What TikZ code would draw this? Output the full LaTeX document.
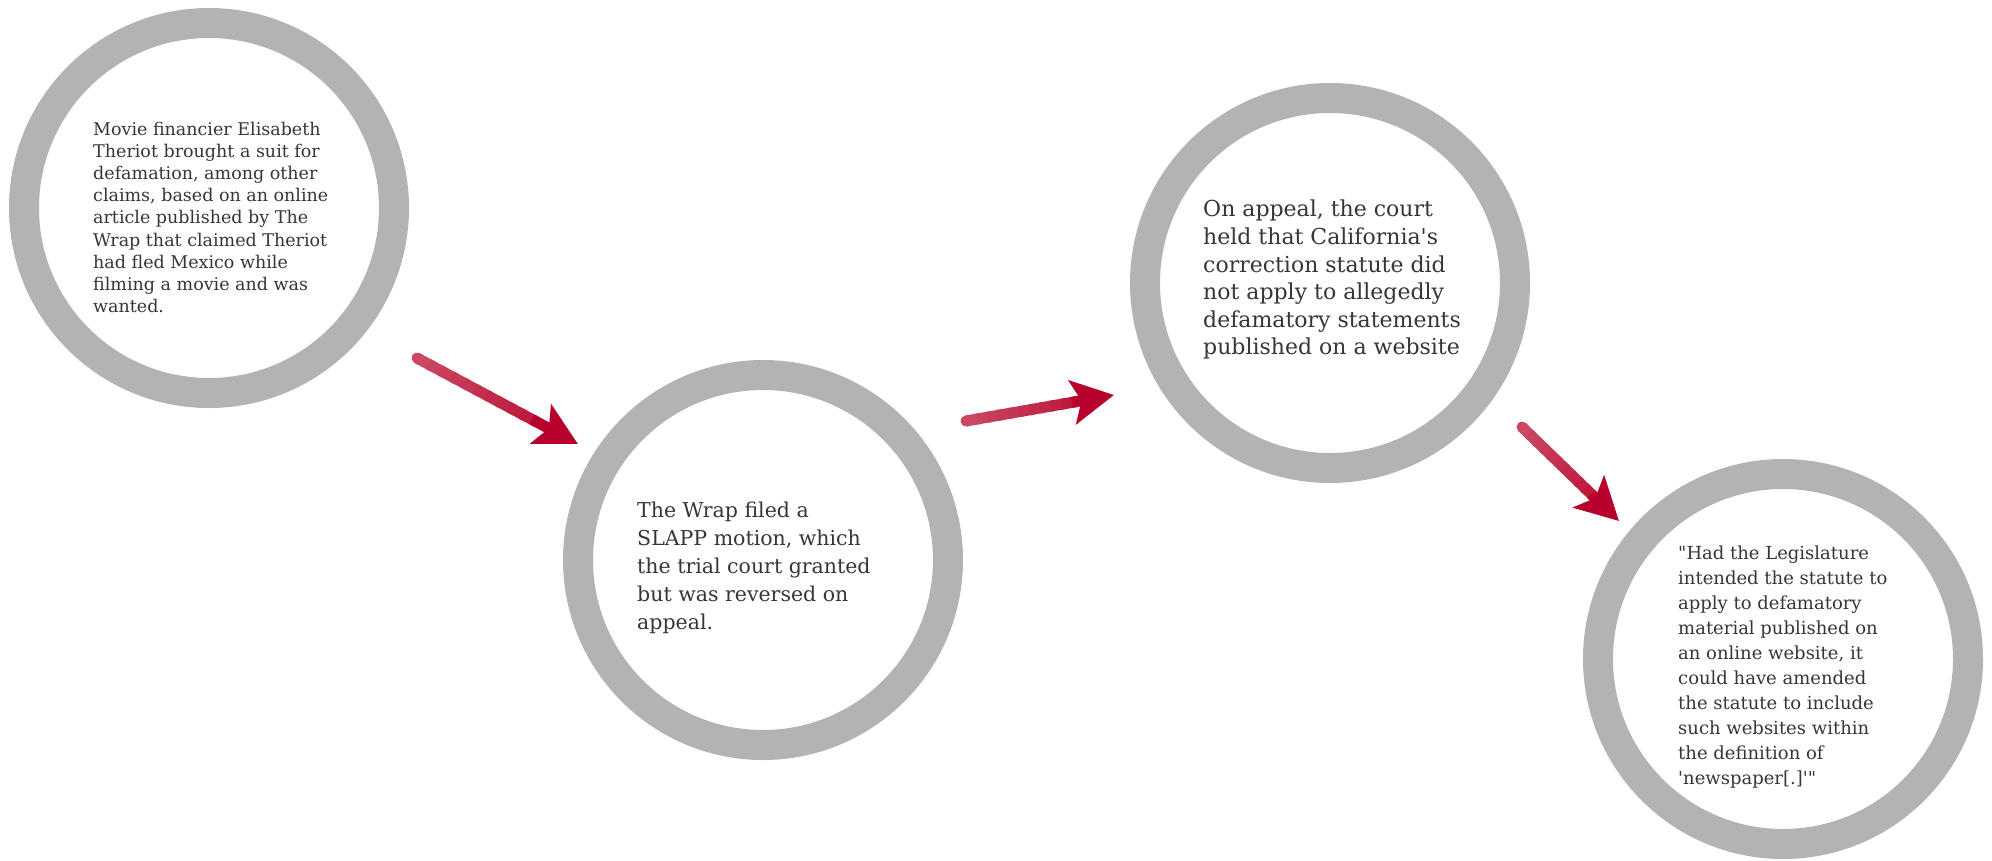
\documentclass[tikz,border=0pt]{standalone}
\usepackage{fontspec}
\newfontfamily\bodyfont{DejaVu Serif}
\usetikzlibrary{arrows.meta,calc}
\definecolor{ringgray}{HTML}{B3B3B3}
\definecolor{txtgray}{HTML}{363636}
\definecolor{arrowlight}{HTML}{CA4862}
\definecolor{arrowdark}{HTML}{B7002B}
\newcommand\gradarrow[2]{%
  \foreach \i in {0,...,9}{%
    \pgfmathsetmacro\pc{\i*7}%
    \draw[shaft, color=arrowdark!\pc!arrowlight, line cap=butt]
      ($(#1)!{\i/14}!(#2)$) -- ($(#1)!{(\i+1.4)/14}!(#2)$);
  }%
  \draw[shaft, color=arrowlight, line cap=round] (#1) -- ($(#1)!0.02!(#2)$);
  \draw[shaft, color=arrowdark, -{Stealth[length=42pt,width=44pt,inset=9pt]}]
    ($(#1)!{10/14}!(#2)$) -- (#2);
}
\begin{document}
\begin{tikzpicture}[x=1pt,y=-1pt,
  ring/.style={circle, draw=ringgray, line width=30pt, minimum size=370pt, inner sep=0pt, fill=white},
  txt/.style={anchor=north west, align=left, inner sep=0pt, text=txtgray},
  shaft/.style={line width=11pt}]
\useasboundingbox[fill=white] (0,0) rectangle (1992,860);
% circles
\node[ring] (c1) at (209,208) {};
\node[ring] (c2) at (763,560) {};
\node[ring] (c3) at (1330,283) {};
\node[ring] (c4) at (1783,659) {};
% texts
\node[txt, font=\bodyfont\fontsize{17.5}{22.1}\selectfont] (t1) at (93,122)
  {Movie financier Elisabeth\\Theriot brought a suit for\\defamation, among other\\claims, based on an online\\article published by The\\Wrap that claimed Theriot\\had fled Mexico while\\filming a movie and was\\wanted.};
\node[txt, font=\bodyfont\fontsize{20.5}{28}\selectfont] (t2) at (637,502)
  {The Wrap filed a\\SLAPP motion, which\\the trial court granted\\but was reversed on\\appeal.};
\node[txt, font=\bodyfont\fontsize{22}{27.6}\selectfont] (t3) at (1203,200)
  {On appeal, the court\\held that California's\\correction statute did\\not apply to allegedly\\defamatory statements\\published on a website};
\node[txt, font=\bodyfont\fontsize{18}{25}\selectfont] (t4) at (1678,546)
  {"Had the Legislature\\intended the statute to\\apply to defamatory\\material published on\\an online website, it\\could have amended\\the statute to include\\such websites within\\the definition of\\'newspaper[.]'"};
% arrows
\coordinate (a1s) at (417,358);
\coordinate (a1e) at (578,444);
\coordinate (a2s) at (966,421);
\coordinate (a2e) at (1114,395);
\coordinate (a3s) at (1522,427);
\coordinate (a3e) at (1619,521);
\gradarrow{a1s}{a1e}
\gradarrow{a2s}{a2e}
\gradarrow{a3s}{a3e}
\end{tikzpicture}
\end{document}
